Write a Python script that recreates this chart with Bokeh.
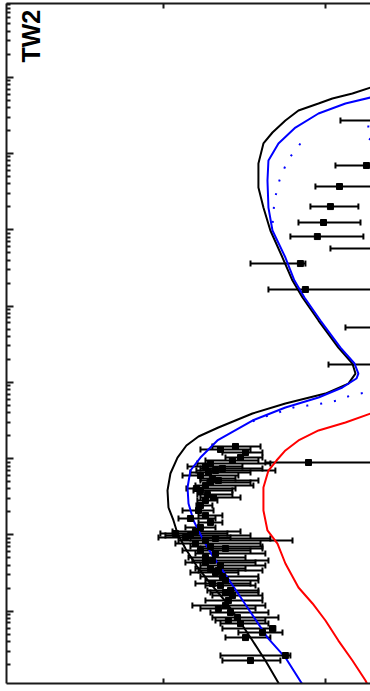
import numpy as np
from bokeh.plotting import figure
from bokeh.models import (ColumnDataSource, LinearAxis, FixedTicker, Whisker,
                          TeeHead, Label, Range1d)
from bokeh.embed import file_html
from bokeh.resources import INLINE

# ---- model curves: log10 flux (horizontal) vs log10 wavelength (vertical) ----
total_logf = [-9.684, -9.721, -9.833, -9.957, -10.043, -10.167, -10.248, -10.328,
              -10.384, -10.415, -10.415, -10.384, -10.341, -10.266, -10.204, -10.142,
              -10.043, -9.920, -9.833, -9.814, -9.858, -10.000, -10.248, -10.452,
              -10.663, -10.786, -10.861, -10.916, -10.960, -10.978, -10.972, -10.941,
              -10.916, -10.867, -10.799, -10.712, -10.613, -10.526, -10.452, -10.372,
              -10.285]
total_loglam = [6.891, 6.864, 6.786, 6.721, 6.655, 6.563, 6.432, 6.275,
                6.131, 5.869, 5.554, 5.291, 4.990, 4.636, 4.334, 4.112,
                3.810, 3.456, 3.247, 3.115, 2.984, 2.853, 2.723, 2.591,
                2.408, 2.290, 2.172, 2.014, 1.805, 1.582, 1.359, 1.189,
                1.018, 0.822, 0.598, 0.362, 0.114, -0.149, -0.385, -0.647,
                -0.962]

model_logf = [-9.684, -9.721, -9.876, -10.043, -10.186, -10.291, -10.353, -10.359,
              -10.353, -10.328, -10.248, -10.192, -10.130, -10.031, -9.907, -9.820,
              -9.796, -9.808, -9.895, -10.043, -10.248, -10.452, -10.669, -10.774,
              -10.836, -10.854, -10.848, -10.817, -10.755, -10.700, -10.607, -10.483,
              -10.359, -10.248, -10.142]
model_loglam = [6.760, 6.734, 6.655, 6.524, 6.340, 6.131, 5.908, 5.646,
                5.291, 4.990, 4.636, 4.334, 4.112, 3.810, 3.456, 3.247,
                3.115, 3.050, 2.932, 2.801, 2.670, 2.499, 2.238, 2.014,
                1.844, 1.621, 1.412, 1.189, 0.927, 0.730, 0.441, 0.049,
                -0.346, -0.608, -0.962]

# dotted component of the model (three visible stretches)
comp_a_logf = [-10.155, -10.235, -10.285, -10.316, -10.328]
comp_a_loglam = [6.131, 5.908, 5.646, 5.383, 5.056]
comp_b_logf = [-9.659, -9.734, -9.740, -9.659]
comp_b_loglam = [6.459, 6.367, 6.209, 6.091]
comp_c_logf = [-9.684, -9.752, -9.845, -9.926, -10.019, -10.111, -10.198,
               -10.291, -10.372, -10.452]
comp_c_loglam = [2.893, 2.866, 2.827, 2.762, 2.723, 2.696, 2.670,
                 2.604, 2.552, 2.486]

photo_logf = [-9.684, -9.721, -9.876, -10.043, -10.167, -10.248, -10.303, -10.353,
              -10.384, -10.384, -10.359, -10.297, -10.248, -10.167, -10.080, -10.000,
              -9.920, -9.833, -9.752, -9.734]
photo_loglam = [2.618, 2.591, 2.473, 2.369, 2.238, 2.107, 1.975, 1.844,
                1.621, 1.320, 1.058, 0.887, 0.625, 0.310, 0.101, -0.122,
                -0.385, -0.647, -0.909, -0.987]

# ---- photometry: value with lower / upper flux bounds ----
obs_loglam = [6.432, 5.842, 5.567, 5.304, 5.095, 4.911, 4.754, 4.557, 4.217, 3.719,
              3.233,
              2.159, 2.080, 2.014, 1.949, 1.936, 1.897, 1.844, 1.779, 1.739, 1.687,
              1.648, 1.582, 1.530, 1.451, 1.385, 1.320, 1.255, 1.163, 1.097, 1.018,
              0.966, 0.927, 0.887, 0.848, 0.796, 0.756, 0.704, 0.664, 0.598, 0.559,
              0.507, 0.454, 0.402, 0.336, 0.271, 0.205, 0.140, 0.075, -0.017, -0.083,
              -0.162, -0.228, -0.346, -0.581,
              2.120, 1.975, 1.871, 1.818, 1.713, 1.608, 1.490, 1.215, 1.045, 0.992,
              0.953, 0.822, 0.638, 0.533, 0.362, 0.245, 0.035, -0.122, -0.279, -0.647]
obs_logf = [-9.597, -9.746, -9.913, -9.969, -10.012, -10.050, -9.597, -10.155, -10.124,
            -9.597, -9.628,
            -10.557, -10.495, -10.526, -10.105, -10.712, -10.743, -10.681, -10.774,
            -10.700, -10.712, -10.743, -10.774, -10.731, -10.743, -10.774, -10.786,
            -10.743, -10.712, -10.774, -10.929, -10.867, -10.743, -10.805, -10.712,
            -10.774, -10.681, -10.743, -10.700, -10.650, -10.712, -10.681, -10.638,
            -10.619, -10.650, -10.588, -10.576, -10.601, -10.619, -10.588, -10.545,
            -10.526, -10.328, -10.495, -10.248,
            -10.650, -10.576, -10.638, -10.724, -10.663, -10.799, -10.693, -10.836,
            -10.805, -10.836, -10.681, -10.619, -10.743, -10.663, -10.700, -10.619,
            -10.663, -10.601, -10.390, -10.464]
obs_logf_lo = [-9.907, -9.938, -10.062, -10.093, -10.167, -10.217, -9.969, -10.464,
               -10.353, -9.876, -9.981,
               -10.700, -10.638, -10.619, -10.372, -10.793, -10.854, -10.799, -10.885,
               -10.774, -10.731, -10.805, -10.817, -10.793, -10.793, -10.799, -10.885,
               -10.786, -10.786, -10.867, -11.022, -11.034, -10.910, -10.929, -10.836,
               -10.885, -10.805, -10.848, -10.824, -10.774, -10.805, -10.836, -10.774,
               -10.743, -10.743, -10.731, -10.700, -10.743, -10.824, -10.712, -10.700,
               -10.650, -10.638, -10.619, -10.650,
               -10.774, -10.743, -10.774, -10.836, -10.774, -10.861, -10.774, -10.910,
               -10.947, -10.991, -10.836, -10.774, -10.867, -10.786, -10.805, -10.712,
               -10.774, -10.681, -10.539, -10.638]
obs_logf_hi = [-9.412, -9.474, -9.536, -9.796, -9.783, -9.765, -9.412, -10.124,
               -9.412, -9.412, -9.412,
               -10.402, -10.390, -10.390, -9.412, -10.341, -10.514, -10.310, -10.539,
               -10.557, -10.464, -10.446, -10.576, -10.576, -10.669, -10.700, -10.693,
               -10.638, -10.638, -10.681, -10.607, -10.588, -10.204, -10.402, -10.390,
               -10.464, -10.372, -10.495, -10.353, -10.372, -10.495, -10.539, -10.415,
               -10.415, -10.433, -10.415, -10.390, -10.390, -10.372, -10.353, -10.291,
               -10.353, -10.310, -10.341, -10.217,
               -10.464, -10.415, -10.390, -10.464, -10.415, -10.557, -10.526, -10.681,
               -10.526, -10.464, -10.341, -10.390, -10.433, -10.390, -10.464, -10.415,
               -10.433, -10.372, -10.266, -10.279]

object_name = "TW2"

p = figure(width=370, height=691, output_backend="svg", toolbar_location=None,
           x_range=Range1d(-11.975, -9.721), y_range=Range1d(-0.948, 7.966),
           x_axis_location=None, y_axis_location=None,
           min_border_left=6, min_border_right=0, min_border_top=3,
           min_border_bottom=8)
p.outline_line_color = None
p.xgrid.visible = False
p.ygrid.visible = False
p.background_fill_color = "white"
p.border_fill_color = "white"

# frame axes: ticks point inward, labels left blank
decades = list(range(-1, 8))
minor = [d + np.log10(m) for d in range(-1, 8) for m in range(2, 10)]
left = LinearAxis(ticker=FixedTicker(ticks=decades, minor_ticks=minor))
left.major_tick_in = 7
left.major_tick_out = 0
left.minor_tick_in = 4
left.minor_tick_out = 0
left.major_label_overrides = {d: "" for d in decades}
p.add_layout(left, "left")

flux_ticks = [-11, -10]
for loc in ["above", "below"]:
    ax = LinearAxis(ticker=FixedTicker(ticks=flux_ticks, minor_ticks=[]))
    ax.major_tick_in = 5
    ax.major_tick_out = 0
    ax.minor_tick_in = 0
    ax.minor_tick_out = 0
    ax.major_label_overrides = {t: "" for t in flux_ticks}
    p.add_layout(ax, loc)

for ax in p.axis:
    ax.axis_line_color = "#1a1a1a"
    ax.axis_line_width = 2
    ax.major_tick_line_color = "#1a1a1a"
    ax.major_tick_line_width = 2
    ax.minor_tick_line_color = "#1a1a1a"
    ax.minor_tick_line_width = 2
    ax.major_label_standoff = 0

# model curves
p.line(photo_logf, photo_loglam, line_color="#ff0000", line_width=2)
p.line(total_logf, total_loglam, line_color="#000000", line_width=2)
p.line(model_logf, model_loglam, line_color="#0000ff", line_width=2)
for xs, ys in [(comp_a_logf, comp_a_loglam), (comp_b_logf, comp_b_loglam),
               (comp_c_logf, comp_c_loglam)]:
    p.line(xs, ys, line_color="#0000ff", line_width=2, line_dash="2 12")

# photometry with horizontal error bars
obs = ColumnDataSource(dict(f=obs_logf, lam=obs_loglam, lo=obs_logf_lo, hi=obs_logf_hi))
p.add_layout(Whisker(source=obs, base="lam", lower="lo", upper="hi",
                     dimension="width", line_color="black", line_width=2,
                     lower_head=TeeHead(size=6, line_width=2, line_color="black"),
                     upper_head=TeeHead(size=6, line_width=2, line_color="black")))
p.scatter("f", "lam", source=obs, marker="square", size=6,
          fill_color="black", line_color="black")

p.add_layout(Label(x=-11.824, y=7.192, text=object_name, angle=np.pi / 2,
                   text_font="Liberation Sans", text_font_style="bold",
                   text_font_size="25px", text_color="black",
                   text_align="left", text_baseline="alphabetic"))

open("out.html", "w").write(file_html(p, INLINE))
